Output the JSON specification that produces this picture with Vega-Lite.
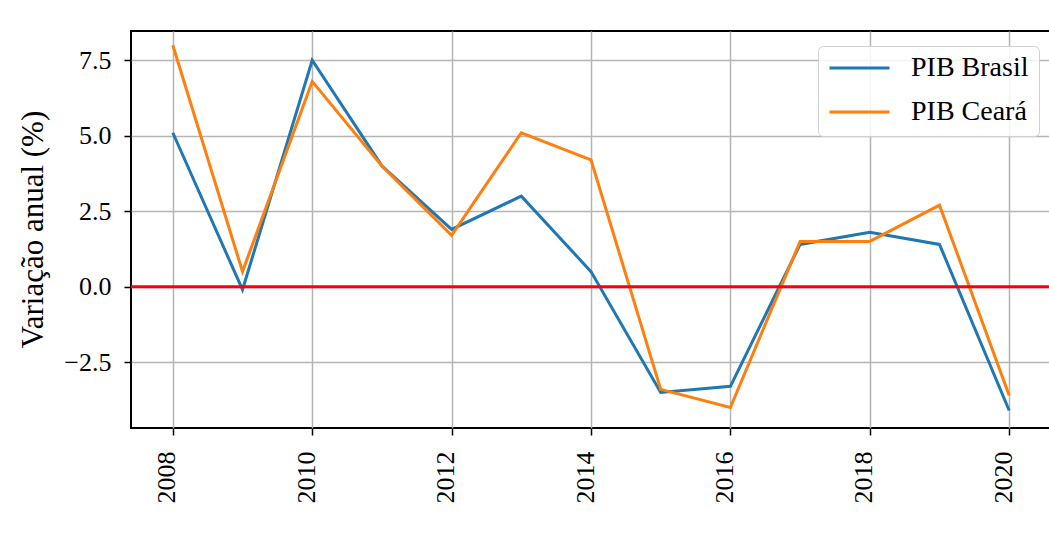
{
  "$schema": "https://vega.github.io/schema/vega-lite/v6.json",
  "autosize": {"type": "none"},
  "width": 920,
  "height": 397,
  "padding": {"left": 131, "top": 31, "right": 0, "bottom": 106},
  "background": "white",
  "config": {
    "font": "Liberation Serif",
    "view": {"stroke": "#000000", "strokeWidth": 2},
    "axis": {
      "domain": false,
      "grid": true,
      "gridColor": "#b5b5b5",
      "gridWidth": 1.5,
      "tickColor": "#000000",
      "tickWidth": 1.5,
      "tickSize": 7,
      "labelFont": "Liberation Serif",
      "labelFontSize": 26,
      "labelColor": "#000000",
      "titleFont": "Liberation Serif",
      "titleFontSize": 31,
      "titleFontWeight": "normal",
      "titleColor": "#000000"
    }
  },
  "data": {
    "values": [
      {"ano": 2008, "serie": "PIB Brasil", "valor": 5.1},
      {"ano": 2009, "serie": "PIB Brasil", "valor": -0.1},
      {"ano": 2010, "serie": "PIB Brasil", "valor": 7.5},
      {"ano": 2011, "serie": "PIB Brasil", "valor": 4.0},
      {"ano": 2012, "serie": "PIB Brasil", "valor": 1.9},
      {"ano": 2013, "serie": "PIB Brasil", "valor": 3.0},
      {"ano": 2014, "serie": "PIB Brasil", "valor": 0.5},
      {"ano": 2015, "serie": "PIB Brasil", "valor": -3.5},
      {"ano": 2016, "serie": "PIB Brasil", "valor": -3.3},
      {"ano": 2017, "serie": "PIB Brasil", "valor": 1.4},
      {"ano": 2018, "serie": "PIB Brasil", "valor": 1.8},
      {"ano": 2019, "serie": "PIB Brasil", "valor": 1.4},
      {"ano": 2020, "serie": "PIB Brasil", "valor": -4.1},
      {"ano": 2008, "serie": "PIB Ceará", "valor": 8.0},
      {"ano": 2009, "serie": "PIB Ceará", "valor": 0.5},
      {"ano": 2010, "serie": "PIB Ceará", "valor": 6.8},
      {"ano": 2011, "serie": "PIB Ceará", "valor": 4.0},
      {"ano": 2012, "serie": "PIB Ceará", "valor": 1.7},
      {"ano": 2013, "serie": "PIB Ceará", "valor": 5.1},
      {"ano": 2014, "serie": "PIB Ceará", "valor": 4.2},
      {"ano": 2015, "serie": "PIB Ceará", "valor": -3.4},
      {"ano": 2016, "serie": "PIB Ceará", "valor": -4.0},
      {"ano": 2017, "serie": "PIB Ceará", "valor": 1.5},
      {"ano": 2018, "serie": "PIB Ceará", "valor": 1.5},
      {"ano": 2019, "serie": "PIB Ceará", "valor": 2.7},
      {"ano": 2020, "serie": "PIB Ceará", "valor": -3.6}
    ]
  },
  "layer": [
    {
      "mark": {"type": "line", "strokeWidth": 3},
      "encoding": {
        "x": {
          "field": "ano",
          "type": "quantitative",
          "scale": {"domain": [2007.4, 2020.6], "nice": false, "zero": false},
          "axis": {
            "title": null,
            "values": [2008, 2010, 2012, 2014, 2016, 2018, 2020],
            "format": "d",
            "labelAngle": -90,
            "labelAlign": "right",
            "labelBaseline": "alphabetic",
            "labelOffset": 2,
            "labelPadding": 16
          }
        },
        "y": {
          "field": "valor",
          "type": "quantitative",
          "scale": {"domain": [-4.68, 8.47], "nice": false, "zero": false},
          "axis": {
            "title": "Variação anual (%)",
            "values": [-2.5, 0, 2.5, 5, 7.5],
            "format": ".1f",
            "labelPadding": 13,
            "labelBaseline": "middle",
            "titleAngle": -90,
            "titleAlign": "center",
            "titleBaseline": "alphabetic",
            "titleX": -89,
            "titleY": 198
          }
        },
        "color": {
          "field": "serie",
          "type": "nominal",
          "scale": {"domain": ["PIB Brasil", "PIB Ceará"], "range": ["#1f77b4", "#ff7f0e"]},
          "legend": {
            "title": null,
            "orient": "none",
            "legendX": 687,
            "legendY": 15,
            "symbolType": "stroke",
            "symbolSize": 3600,
            "symbolStrokeWidth": 3,
            "clipHeight": 24,
            "rowPadding": 16,
            "labelOffset": 20,
            "labelFont": "Liberation Serif",
            "labelFontSize": 28,
            "labelColor": "#000000",
            "padding": 10,
            "strokeColor": "#d0d0d0",
            "fillColor": "rgba(255,255,255,0.85)",
            "cornerRadius": 5
          }
        }
      }
    },
    {
      "data": {"values": [{"nivel": 0}]},
      "mark": {"type": "rule", "color": "#ff0000", "strokeWidth": 3},
      "encoding": {"y": {"field": "nivel", "type": "quantitative"}}
    }
  ]
}
